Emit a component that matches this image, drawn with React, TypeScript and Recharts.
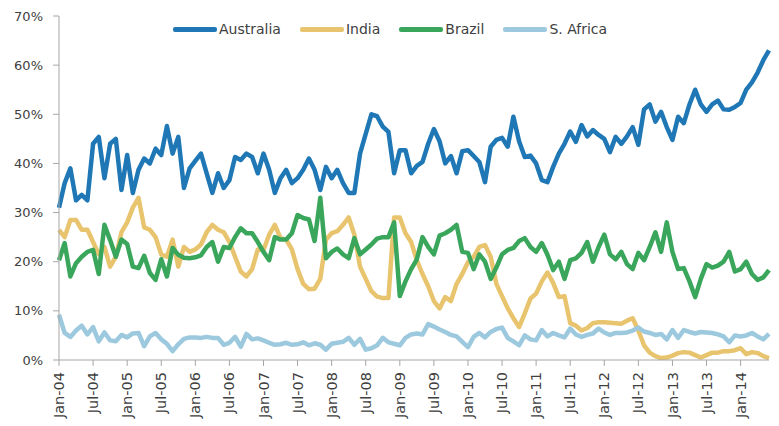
import { LineChart, Line, XAxis, YAxis } from "recharts"

const MONTHS = ["Jan", "Feb", "Mar", "Apr", "May", "Jun", "Jul", "Aug", "Sep", "Oct", "Nov", "Dec"]
const FIRST_YEAR = 2004
const N_POINTS = 126 // Jan-04 .. Jun-14

const australia = [
  31, 36, 39, 32.5, 33.6, 32.5, 44, 45.4, 37, 44, 45, 34.6,
  41.7, 34, 38.7, 41, 40, 43, 41.7, 47.6, 42, 45.4, 35, 39,
  40.5, 42, 38, 34, 38, 35, 36.6, 41.3, 40.7, 42, 41.3, 38,
  42, 38.7, 34, 37, 38.7, 36, 37, 38.7, 41, 38.7, 34.6, 39.3,
  37, 38.7, 36, 34, 34, 42, 46, 50, 49.6, 47.5, 46.4, 38,
  42.7, 42.7, 38, 39.5, 40.3, 44, 47, 44.5, 40, 41.5, 38, 42.5,
  42.7, 41.5, 40.3, 36.2, 43.4, 44.8, 45.2, 43.4, 49.5, 44.5, 41.3, 41.6,
  40, 36.6, 36.2, 39.3, 42, 44, 46.5, 44.4, 47.8, 45.5, 46.8, 45.8,
  45, 42.3, 45.4, 44, 45.5, 47.4, 43.8, 51, 52, 48.5, 50.5, 47.4,
  44.8, 49.5, 48.2, 52, 55, 52, 50.5, 52, 52.8, 51, 50.9, 51.5,
  52.3, 55, 56.5, 58.5, 61, 63,
]

const india = [
  26.5, 25, 28.5, 28.5, 26.5, 26.5, 24, 21.5, 23, 19, 21, 26,
  28, 31, 33, 27, 26.5, 25, 21.5, 21, 24.5, 19, 23, 22,
  22.5, 23.5, 26, 27.5, 26.5, 26, 24, 21, 18, 17, 18.5, 22.5,
  22.4, 25.5, 27.5, 24.8, 24.5, 22.5, 18.5, 15.5, 14.4, 14.5, 16.5, 24.5,
  25.8, 26.2, 27.5, 29, 25.5, 19, 16.5, 14, 12.9, 12.6, 12.6, 29,
  29, 25.8, 24, 20.3, 17.5, 15, 12, 10.5, 12.8, 12, 15.5, 17.5,
  19.9, 21, 23, 23.4, 21, 15.5, 13, 10.5, 8.5, 6.7, 9.5, 12.5,
  13.5, 16, 17.8, 15.7, 12.8, 13, 7.5, 7, 6, 6.5, 7.5, 7.7,
  7.7, 7.6, 7.5, 7.4, 8, 8.5, 6, 3, 1.5, 0.8, 0.4, 0.5,
  0.9, 1.4, 1.6, 1.5, 1, 0.5, 1, 1.5, 1.5, 1.8, 1.8, 2,
  2.4, 1.2, 1.6, 1.4, 0.8, 0.4,
]

const brazil = [
  20.3, 23.8, 17, 19.7, 21, 22, 22.4, 17.5, 27.5, 24.4, 21, 24.5,
  23.6, 19, 18.7, 21.2, 17.7, 16.3, 20.5, 17, 22.8, 21.4, 20.8, 20.7,
  20.9, 21.3, 23, 24, 20, 23, 22.8, 25, 26.8, 25.8, 25.8, 24,
  22, 20.3, 25, 24.5, 24.5, 25.8, 29.5, 28.9, 28.6, 24.2, 33, 20.7,
  22, 22.7, 21.5, 20.7, 24.8, 21.5, 22.5, 23.5, 24.7, 25, 25, 28,
  13, 16, 18.5, 20.5, 25, 23, 21.5, 25.3, 25.8, 26.5, 27.5, 22,
  21.8, 18.5, 21.5, 20, 16.5, 18.8, 21.5, 22.4, 22.8, 24.2, 24.8, 23,
  22, 23.8, 21.4, 18.3, 20, 16.5, 20.3, 20.7, 21.8, 24, 20, 23,
  25.5, 21.5, 20.5, 22, 19.5, 18.5, 21.8, 20.3, 23, 26, 22, 28,
  22, 18.5, 18.7, 16, 12.8, 16.5, 19.5, 18.8, 19.2, 20, 22, 18,
  18.5, 20, 17.5, 16.3, 16.8, 18.3,
]

const southAfrica = [
  9.2, 5.5, 4.7, 6, 7, 5.2, 6.7, 3.8, 5.6, 4, 3.8, 5.1,
  4.6, 5.4, 5.5, 2.8, 4.8, 5.5, 4.2, 3.3, 1.8, 3.2, 4.3, 4.6,
  4.6, 4.5, 4.7, 4.5, 4.5, 3.1, 3.5, 4.7, 2.7, 5.3, 4.2, 4.4,
  4, 3.5, 3.1, 3.2, 3.5, 3.1, 3.2, 3.6, 3, 3.4, 3.1, 2.1,
  3.3, 3.5, 3.7, 4.5, 3.1, 4.3, 2.1, 2.4, 3, 4.5, 3.6, 3.3,
  3, 4.5, 5.2, 5.4, 5.2, 7.3, 6.8, 6.2, 5.7, 5.1, 4.8, 3.7,
  2.6, 4.7, 5.5, 4.6, 5.7, 6.3, 6.6, 4.5, 3.8, 3, 5, 4.2,
  4, 6.1, 4.8, 5.5, 5, 4.6, 6.4, 5.2, 4.7, 5.1, 5.4, 6.4,
  5.6, 5.1, 5.5, 5.5, 5.6, 6, 6.6, 5.8, 5.5, 5.1, 5.3, 4.2,
  6.1, 4.5, 6.1, 5.7, 5.4, 5.7, 5.6, 5.5, 5.2, 4.8, 3.6, 5,
  4.8, 5, 5.5, 4.8, 4.2, 5.3,
]

const yTicks = [0, 10, 20, 30, 40, 50, 60, 70]

const series = [
  { key: "australia", name: "Australia", color: "#1f78b5", values: australia },
  { key: "india", name: "India", color: "#e9c46e", values: india },
  { key: "brazil", name: "Brazil", color: "#3aa65b", values: brazil },
  { key: "southAfrica", name: "S. Africa", color: "#9dc9de", values: southAfrica },
]

const monthLabels = Array.from({ length: N_POINTS }, (_, i) => {
  const yy = String((FIRST_YEAR + Math.floor(i / 12)) % 100).padStart(2, "0")
  return `${MONTHS[i % 12]}-${yy}`
})

const data = monthLabels.map((month, i) => {
  const row: Record<string, string | number> = { month }
  series.forEach((s) => {
    row[s.key] = s.values[i]
  })
  return row
})

const FONT = "'DejaVu Sans', sans-serif"

function XTick(props: any) {
  const { x, payload } = props
  return (
    <text
      transform={`translate(${x},372) rotate(-90)`}
      textAnchor="end"
      dy="0.35em"
      fontSize={14.5}
      fontFamily={FONT}
      fill="#404040"
    >
      {payload.value}
    </text>
  )
}

export default function App() {
  return (
    <div style={{ position: "absolute", left: 0, top: 0, width: 779, height: 426, background: "#fff" }}>
      <LineChart
        width={779}
        height={426}
        data={data}
        margin={{ top: 16, right: 10, bottom: 0, left: 0 }}
      >
        <XAxis
          dataKey="month"
          interval={5}
          tick={<XTick />}
          tickSize={6}
          height={66}
          stroke="#a6a6a6"
          tickLine={{ stroke: "#a6a6a6" }}
        />
        <YAxis
          domain={[0, 70]}
          ticks={yTicks}
          tickFormatter={(v) => `${v}%`}
          width={59}
          tickSize={6}
          tickMargin={10}
          stroke="#a6a6a6"
          tick={{ fill: "#404040", fontSize: 13, fontFamily: FONT }}
        />
        {series.map((s) => (
          <Line
            key={s.key}
            type="linear"
            dataKey={s.key}
            name={s.name}
            stroke={s.color}
            strokeWidth={4.5}
            strokeLinejoin="round"
            dot={false}
            isAnimationActive={false}
          />
        ))}
      </LineChart>
      <div
        style={{
          position: "absolute",
          left: 173,
          top: 21,
          display: "flex",
          alignItems: "center",
          fontFamily: FONT,
          fontSize: 14,
          color: "#404040",
          whiteSpace: "nowrap",
        }}
      >
        {series.map((s) => (
          <div key={s.key} style={{ display: "flex", alignItems: "center", marginRight: 19 }}>
            <span style={{ display: "inline-block", width: 44, height: 5, borderRadius: 2, background: s.color, marginRight: 2 }} />
            <span>{s.name}</span>
          </div>
        ))}
      </div>
    </div>
  )
}
